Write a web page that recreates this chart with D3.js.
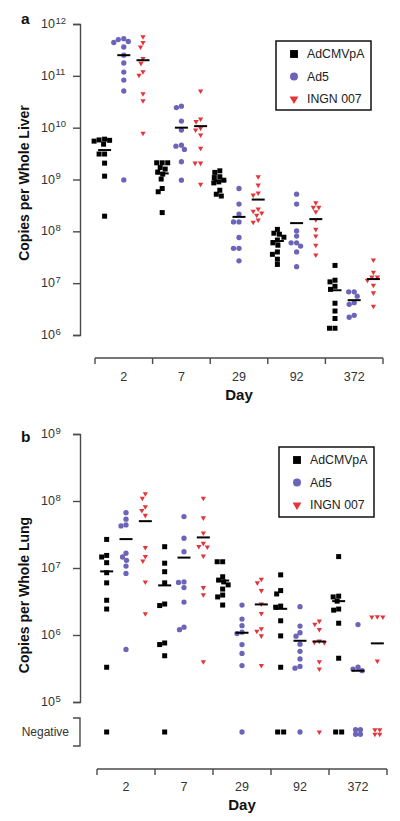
<!DOCTYPE html>
<html><head><meta charset="utf-8">
<script src="https://cdn.jsdelivr.net/npm/d3@7"></script>
<style>
body{margin:0;background:#fff}
svg{display:block;font-family:"Liberation Sans",Arial,sans-serif}
</style>
</head><body>
<svg id="chart" width="400" height="821"></svg>
<script>
// ---------------- DATA ----------------
const days = ["2", "7", "29", "92", "372"];
const seriesNames = ["AdCMVpA", "Ad5", "INGN 007"];
const liverTicks = [1e6, 1e7, 1e8, 1e9, 1e10, 1e11, 1e12];
const lungTicks = [1e5, 1e6, 1e7, 1e8, 1e9];

// Panel a: copies per whole liver, one list per day
const liverAdCMVpA = [
  [6.0e9, 5.8e9, 5.7e9, 5.5e9, 4.8e9, 3.1e9, 3.1e9, 2.07e9, 1.16e9, 1.96e8],
  [2.1e9, 2.1e9, 2.1e9, 1.7e9, 1.59e9, 1.39e9, 1.27e9, 1.02e9, 6.7e8, 5.8e8, 2.3e8],
  [1.47e9, 1.37e9, 1.13e9, 1.09e9, 9.7e8, 9.0e8, 8.6e8, 6.2e8, 5.2e8, 4.8e8],
  [1.09e8, 9.2e7, 8.8e7, 7.7e7, 6.8e7, 6.0e7, 5.4e7, 4.0e7, 3.6e7, 2.9e7, 2.3e7],
  [2.2e7, 1.14e7, 1.06e7, 8.7e6, 7.6e6, 4.1e6, 2.9e6, 2.08e6, 1.35e6, 1.35e6]
];
const liverAd5 = [
  [5.2e11, 5.0e11, 4.6e11, 4.4e11, 3.6e11, 2.5e11, 1.77e11, 1.18e11, 8.3e10, 5.1e10, 9.8e8],
  [2.6e10, 2.44e10, 1.34e10, 9.0e9, 4.6e9, 4.4e9, 3.8e9, 2.2e9, 9.7e8],
  [6.7e8, 3.35e8, 2.15e8, 1.52e8, 1.52e8, 7.6e7, 4.7e7, 4.7e7, 2.7e7],
  [5.2e8, 3.35e8, 1.02e8, 8.1e7, 6.0e7, 6.0e7, 5.2e7, 4.0e7, 2.08e7],
  [6.8e6, 6.8e6, 5.6e6, 4.2e6, 3.9e6, 2.4e6, 2.2e6]
];
const liverINGN007 = [
  [5.7e11, 4.4e11, 3.6e11, 2.16e11, 1.74e11, 1.2e11, 1.03e11, 4.5e10, 3.3e10, 7.8e9],
  [5.1e10, 1.47e10, 1.31e10, 9.8e9, 9.0e9, 7.2e9, 4.0e9, 2.07e9, 2.07e9, 8.1e8],
  [1.13e9, 7.8e8, 5.5e8, 5.0e8, 2.7e8, 2.45e8, 2.25e8, 2.05e8, 1.65e8, 1.5e8],
  [3.55e8, 2.9e8, 2.9e8, 2.38e8, 1.68e8, 1.09e8, 8.1e7, 5.4e7, 3.5e7],
  [2.8e7, 1.63e7, 1.31e7, 1.31e7, 1.14e7, 9.1e6, 6.5e6, 3.6e6]
];
const liverMedianAdCMVpA = [3.7e9, 1.31e9, 9.4e8, 6.5e7, 7.3e6];
const liverMedianAd5 = [2.5e11, 1.0e10, 1.9e8, 1.44e8, 4.7e6];
const liverMedianINGN007 = [2.0e11, 1.07e10, 4.1e8, 1.72e8, 1.2e7];

// Panel b: copies per whole lung (null = Negative)
const lungAdCMVpA = [
  [2.67e7, 1.54e7, 1.46e7, 1.2e7, 8.5e6, 6.0e6, 3.3e6, 2.44e6, 3.3e5, null],
  [2.08e7, 1.18e7, 8.8e6, 6.0e6, 2.9e6, 2.75e6, 7.6e5, 7.2e5, 4.9e5, null],
  [1.24e7, 1.24e7, 7.4e6, 6.6e6, 6.2e6, 5.6e6, 4.85e6, 3.95e6, 3.7e6, 2.8e6],
  [7.9e6, 4.6e6, 4.1e6, 2.7e6, 2.6e6, 1.63e6, 9.7e5, 3.3e5, null, null],
  [1.48e7, 3.8e6, 3.7e6, 3.2e6, 2.44e6, 2.35e6, 1.5e6, 4.5e5, null, null]
];
const lungAd5 = [
  [6.7e7, 5.35e7, 4.4e7, 4.25e7, 1.66e7, 1.46e7, 1.3e7, 1.07e7, 8.3e6, 6.1e5],
  [5.85e7, 2.78e7, 1.75e7, 6.2e6, 6.1e6, 5.1e6, 3.1e6, 1.31e6, 1.2e6],
  [2.8e6, 1.73e6, 1.38e6, 1.1e6, 1.05e6, 7.2e5, 5.3e5, 3.5e5, null],
  [2.65e6, 1.36e6, 1.08e6, 9.6e5, 7.3e5, 5.7e5, 4.4e5, 3.4e5, 3.2e5, null],
  [1.43e6, 3.3e5, 3.1e5, 2.93e5, null, null, null, null]
];
const lungINGN007 = [
  [1.28e8, 1.1e8, 8.2e7, 7.2e7, 6.1e7, 2.03e7, 1.49e7, 1.27e7, 6.2e6, 2.08e6],
  [1.1e8, 5.6e7, 3.34e7, 2.33e7, 2.1e7, 2.06e7, 1.51e7, 5.1e6, 4.0e6, 4.0e5],
  [6.8e6, 6.0e6, 4.6e6, 2.9e6, 2.1e6, 1.24e6, 1.14e6, 9.7e5, 3.5e5],
  [1.61e6, 1.45e6, 1.21e6, 8.1e5, 7.8e5, 7.7e5, 4.0e5, 3.1e5, null],
  [1.87e6, 1.86e6, 1.86e6, 4.1e5, null, null, null, null]
];
const lungMedianAdCMVpA = [8.9e6, 5.5e6, 6.5e6, 2.46e6, 3.2e6];
const lungMedianAd5 = [2.7e7, 1.43e7, 1.08e6, 8.2e5, 2.93e5];
const lungMedianINGN007 = [5.0e7, 2.86e7, 2.86e6, 8.0e5, 7.5e5];

// ---------------- STYLE / LAYOUT ----------------
const colors = ["#000000", "#6c64b8", "#e4353b"];
const symbolTypes = [d3.symbolSquare, d3.symbolCircle, d3.symbolTriangle];
const symbolSizes = [25, 22, 12];
const legendSizes = [62, 50, 34];
const axisColor = "#4a4a4a";
const textColor = "#333";

const svg = d3.select("#chart");

function drawPanel(cfg) {
  const g = svg.append("g");
  const y = d3.scaleLog().domain(cfg.yDomain).range(cfg.yRange);
  const x = d3.scaleBand().domain(days).range(cfg.xRange).padding(0);
  const sub = d3.scalePoint().domain(seriesNames).range([0, x.bandwidth()]).padding(0.5);

  // ---- Y axis ----
  const yAxis = d3.axisLeft(y).tickValues(cfg.ticks).tickFormat("").tickSizeOuter(0).tickSize(7);
  const ya = g.append("g").attr("transform", `translate(${cfg.yAxisX},0)`).call(yAxis);
  ya.selectAll("path,line").attr("stroke", axisColor).attr("stroke-width", 1.4);
  cfg.ticks.forEach(t => {
    const ty = y(t);
    g.append("text").attr("x", cfg.yAxisX - 25).attr("y", ty + 4)
      .attr("text-anchor", "end").attr("font-size", 12.5).attr("fill", textColor).text("10");
    g.append("text").attr("x", cfg.yAxisX - 24.5).attr("y", ty - 0.5)
      .attr("font-size", 9.5).attr("fill", textColor).text(Math.round(Math.log10(t)));
  });

  // ---- Negative bracket ----
  if (cfg.neg) {
    const n = cfg.neg;
    g.append("path")
      .attr("d", `M${cfg.yAxisX - 7},${n.top}H${cfg.yAxisX}V${n.bottom}H${cfg.yAxisX - 7}`)
      .attr("fill", "none").attr("stroke", axisColor).attr("stroke-width", 1.4);
    g.append("text").attr("x", cfg.yAxisX - 11).attr("y", n.y + 4)
      .attr("text-anchor", "end").attr("font-size", 12).attr("fill", textColor).text("Negative");
  }

  // ---- X axis ----
  const xa = g.append("g").attr("transform", `translate(0,${cfg.xAxisY})`);
  xa.append("line").attr("x1", cfg.xRange[0]).attr("x2", cfg.xRange[1])
    .attr("stroke", axisColor).attr("stroke-width", 1.4);
  const bounds = days.map(d => x(d)).concat([x(days[days.length - 1]) + x.bandwidth()]);
  xa.selectAll("line.tk").data(bounds).join("line").attr("class", "tk")
    .attr("x1", d => d).attr("x2", d => d).attr("y1", 0).attr("y2", 6)
    .attr("stroke", axisColor).attr("stroke-width", 1.4);
  xa.selectAll("text").data(days).join("text")
    .attr("x", d => x(d) + x.bandwidth() / 2).attr("y", cfg.xLabelY - cfg.xAxisY)
    .attr("text-anchor", "middle").attr("font-size", 12.5).attr("fill", textColor).text(d => d);
  g.append("text").attr("x", (cfg.xRange[0] + cfg.xRange[1]) / 2).attr("y", cfg.dayY)
    .attr("text-anchor", "middle").attr("font-size", 15).attr("font-weight", "bold").attr("fill", "#111").text("Day");

  // ---- axis title and panel letter ----
  g.append("text").attr("transform", `translate(${cfg.titleX},${cfg.titleY}) rotate(-90)`)
    .attr("text-anchor", "middle").attr("font-size", 14).attr("font-weight", "bold").attr("fill", "#111").text(cfg.title);
  g.append("text").attr("x", 21).attr("y", cfg.letterY).attr("font-size", 15.5)
    .attr("font-weight", "bold").attr("fill", "#111").text(cfg.letter);

  // ---- points (simple beeswarm so that near-equal values sit side by side) ----
  const step = 5.1;
  cfg.series.forEach((ser, si) => {
    ser.forEach((vals, di) => {
      const cx = x(days[di]) + sub(seriesNames[si]);
      const pos = vals.filter(v => v != null).sort((a, b) => b - a);
      const placed = [];
      pos.forEach(v => {
        const py = y(v);
        let dx = 0;
        for (let k = 0; k < 60; k++) {
          const cand = (k % 2 === 1 ? -1 : 1) * Math.ceil(k / 2) * 0.5;
          const hit = placed.some(p => Math.hypot(p.dx - cand, p.py - py) < step);
          if (!hit) { dx = cand; break; }
        }
        placed.push({ dx, py, v });
      });
      // negatives
      const negCount = vals.filter(v => v == null).length;
      const negPts = [];
      if (negCount > 0) {
        const cols = Math.min(negCount, 2);
        const rows = Math.ceil(negCount / cols);
        const sx = negCount > 2 ? 4.8 : 6;
        const sy = 4.5;
        for (let i = 0; i < negCount; i++) {
          const c = i % cols, r = Math.floor(i / cols);
          negPts.push({ dx: (c - (cols - 1) / 2) * sx, py: cfg.neg.y + (r - (rows - 1) / 2) * sy });
        }
      }
      const all = placed.concat(negPts);
      g.selectAll(null).data(all).join("path")
        .attr("d", d3.symbol().type(symbolTypes[si]).size(symbolSizes[si]))
        .attr("transform", d => `translate(${cx + d.dx},${d.py})` + (si === 2 ? " rotate(180)" : ""))
        .attr("fill", colors[si]);
      // median line
      const m = cfg.medians[si][di];
      g.append("line").attr("x1", cx - 6.5).attr("x2", cx + 6.5)
        .attr("y1", y(m)).attr("y2", y(m)).attr("stroke", "#000").attr("stroke-width", 2);
    });
  });

  // ---- legend ----
  const L = cfg.legend;
  const lg = g.append("g").attr("transform", `translate(${L.x},${L.y})`);
  lg.append("rect").attr("width", L.w).attr("height", L.h).attr("fill", "#fff")
    .attr("stroke", "#111").attr("stroke-width", 1.5);
  seriesNames.forEach((s, i) => {
    const yy = 13 + i * 22.5;
    lg.append("path").attr("d", d3.symbol().type(symbolTypes[i]).size(legendSizes[i]))
      .attr("transform", `translate(18,${yy})` + (i === 2 ? " rotate(180)" : "")).attr("fill", colors[i]);
    lg.append("text").attr("x", 31).attr("y", yy + 4.3).attr("font-size", 12.3).attr("fill", "#222").text(s);
  });
}

drawPanel({
  yDomain: [1e6, 1e12], yRange: [335, 24], ticks: liverTicks, yAxisX: 80,
  xRange: [95, 383], xAxisY: 358, xLabelY: 381, dayY: 400,
  title: "Copies per Whole Liver", titleX: 29, titleY: 183, letter: "a", letterY: 24,
  series: [liverAdCMVpA, liverAd5, liverINGN007],
  medians: [liverMedianAdCMVpA, liverMedianAd5, liverMedianINGN007],
  legend: { x: 276, y: 41, w: 95, h: 69 }
});

drawPanel({
  yDomain: [1e5, 1e9], yRange: [702, 434], ticks: lungTicks, yAxisX: 80,
  neg: { top: 718, bottom: 746, y: 732 },
  xRange: [97, 387], xAxisY: 769, xLabelY: 791, dayY: 810,
  title: "Copies per Whole Lung", titleX: 29, titleY: 595, letter: "b", letterY: 442,
  series: [lungAdCMVpA, lungAd5, lungINGN007],
  medians: [lungMedianAdCMVpA, lungMedianAd5, lungMedianINGN007],
  legend: { x: 279, y: 447, w: 95, h: 70 }
});
</script>
</body></html>
